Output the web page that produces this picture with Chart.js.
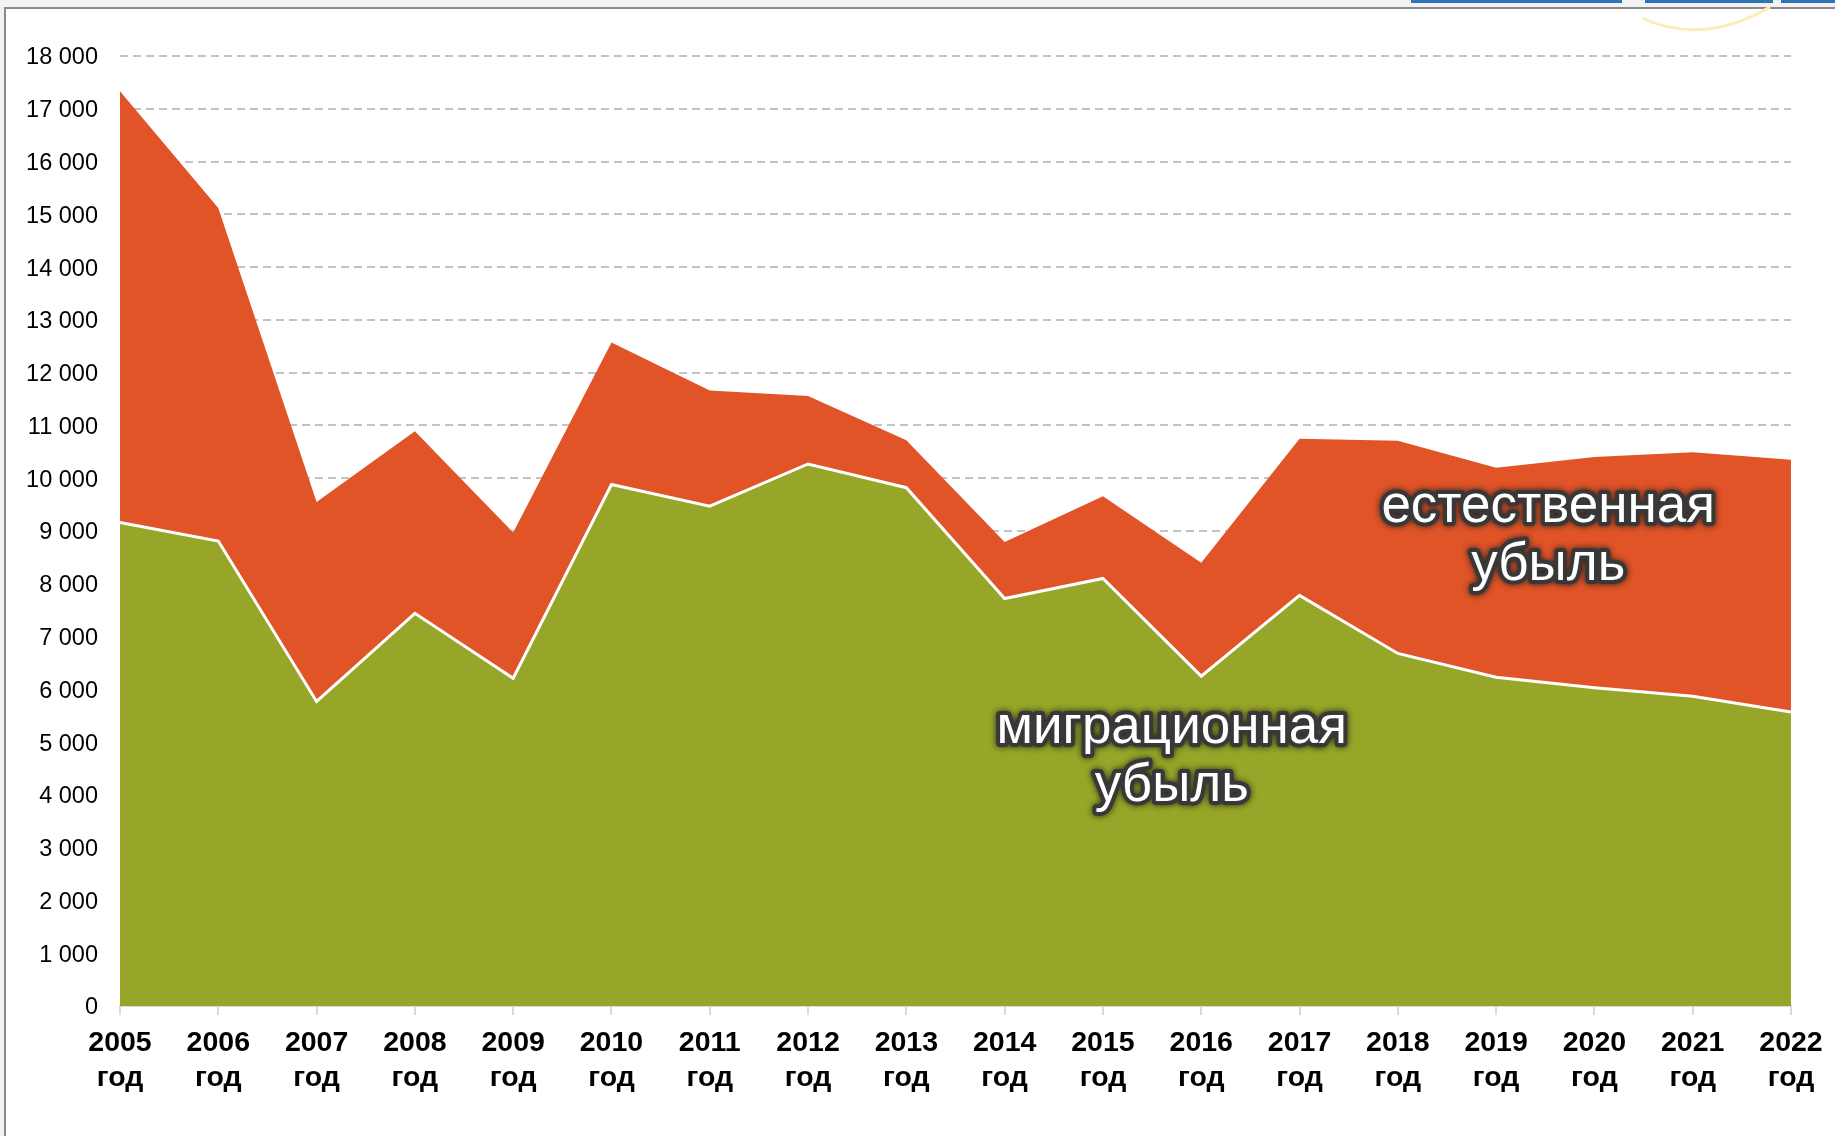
<!DOCTYPE html>
<html lang="ru">
<head>
    <meta charset="UTF-8">
    <title>Миграционная и естественная убыль</title>
    <script src="https://cdn.jsdelivr.net/npm/chart.js"></script>
    <style>
        html, body { margin: 0; padding: 0; background: #f2f2f2; }
        #wrap { position: relative; width: 1835px; height: 1136px; overflow: hidden; }
        #frame {
            position: absolute; left: 4px; top: 7px; right: -10px; bottom: -10px;
            background: #fff; border-top: 2px solid #8a8a8a; border-left: 2px solid #8a8a8a;
        }
        .blue { position: absolute; top: 0; height: 3px; background: #2e75b6; }
        #deco { position: absolute; left: 0; top: 0; }
        canvas { position: absolute; left: 0; top: 0; }
    </style>
</head>
<body>
<div id="wrap">
    <div id="frame"></div>
    <div class="blue" style="left:1411px;width:211px"></div>
    <div class="blue" style="left:1645px;width:128px"></div>
    <div class="blue" style="left:1781px;width:54px"></div>
    <svg id="deco" width="1835" height="40">
        <path d="M1642 18 Q1703 46 1770 7" stroke="#fdebb8" stroke-width="3" fill="none"/>
    </svg>
    <canvas id="lossChart" width="1835" height="1136"></canvas>
</div>

<script>
    const years = ['2005', '2006', '2007', '2008', '2009', '2010', '2011', '2012', '2013',
                   '2014', '2015', '2016', '2017', '2018', '2019', '2020', '2021', '2022'];
    const migration = [9160, 8810, 5770, 7440, 6210, 9880, 9470, 10270, 9820,
                       7720, 8100, 6250, 7780, 6680, 6230, 6030, 5870, 5570];
    const natural = [8170, 6310, 3780, 3450, 2760, 2690, 2190, 1290, 900,
                     1070, 1560, 2150, 2970, 4030, 3970, 4370, 4620, 4780];

    // подписи областей: [индекс по оси X, значение по оси Y, строки]
    const areaLabels = [
        { x: 10.7, y: 4980, lines: ['миграционная', 'убыль'] },
        { x: 14.53, y: 9170, lines: ['естественная', 'убыль'] }
    ];

    const labelPlugin = {
        id: 'areaLabels',
        afterDatasetsDraw(chart) {
            const ctx = chart.ctx;
            const xs = chart.scales.x, ys = chart.scales.y;
            ctx.save();
            ctx.font = '53px "Liberation Sans", Arial, sans-serif';
            ctx.textAlign = 'center';
            ctx.textBaseline = 'alphabetic';
            ctx.lineJoin = 'round';
            areaLabels.forEach(l => {
                const px = xs.getPixelForValue(l.x);
                const py = ys.getPixelForValue(l.y);
                l.lines.forEach((t, i) => {
                    const yy = py + i * 58;
                    ctx.shadowColor = 'rgba(30,30,30,0.95)';
                    ctx.shadowBlur = 6;
                    ctx.strokeStyle = '#383838';
                    ctx.lineWidth = 8;
                    ctx.strokeText(t, px, yy);
                    ctx.shadowBlur = 0;
                    ctx.shadowColor = 'transparent';
                    ctx.fillStyle = '#ffffff';
                    ctx.fillText(t, px, yy);
                });
            });
            ctx.restore();
        }
    };

    const ctx = document.getElementById('lossChart').getContext('2d');
    const chart = new Chart(ctx, {
        type: 'line',
        data: {
            labels: years.map(y => [y, 'год']),
            datasets: [
                {
                    label: 'миграционная убыль',
                    data: migration,
                    backgroundColor: '#97a628',
                    borderColor: '#ffffff',
                    borderWidth: 3,
                    pointRadius: 0,
                    fill: 'origin',
                    tension: 0
                },
                {
                    label: 'естественная убыль',
                    data: natural,
                    backgroundColor: '#e05428',
                    borderColor: 'rgba(0,0,0,0)',
                    borderWidth: 0,
                    pointRadius: 0,
                    fill: '-1',
                    tension: 0
                }
            ]
        },
        options: {
            responsive: false,
            animation: false,
            layout: { padding: { top: 56, right: 44, left: 0, bottom: 0 } },
            plugins: {
                legend: { display: false },
                tooltip: { enabled: false }
            },
            scales: {
                x: {
                    offset: false,
                    grid: {
                        drawOnChartArea: false,
                        drawTicks: true,
                        tickLength: 9,
                        color: '#d9d9d9',
                        lineWidth: 2
                    },
                    border: { color: '#d9d9d9', width: 2 },
                    ticks: {
                        color: '#000',
                        maxRotation: 0,
                        autoSkip: false,
                        padding: 10,
                        font: { family: '"Liberation Sans", Arial, sans-serif', size: 28.5, weight: 'bold', lineHeight: 1.25 }
                    },
                    afterFit(scale) { scale.height = 130; }
                },
                y: {
                    stacked: true,
                    min: 0,
                    max: 18000,
                    grid: {
                        drawTicks: false,
                        color: c => c.tick.value === 0 ? 'rgba(0,0,0,0)' : '#c3c3c3',
                        lineWidth: 2
                    },
                    border: { display: false, dash: [8, 5] },
                    ticks: {
                        stepSize: 1000,
                        padding: 22,
                        labelOffset: 2,
                        color: '#000',
                        font: { family: '"Liberation Sans", Arial, sans-serif', size: 23.5 },
                        callback: v => v.toLocaleString('ru-RU').replace(/\s/g, ' ')
                    },
                    afterFit(scale) { scale.width = 120; }
                }
            }
        },
        plugins: [labelPlugin]
    });
</script>
</body>
</html>
